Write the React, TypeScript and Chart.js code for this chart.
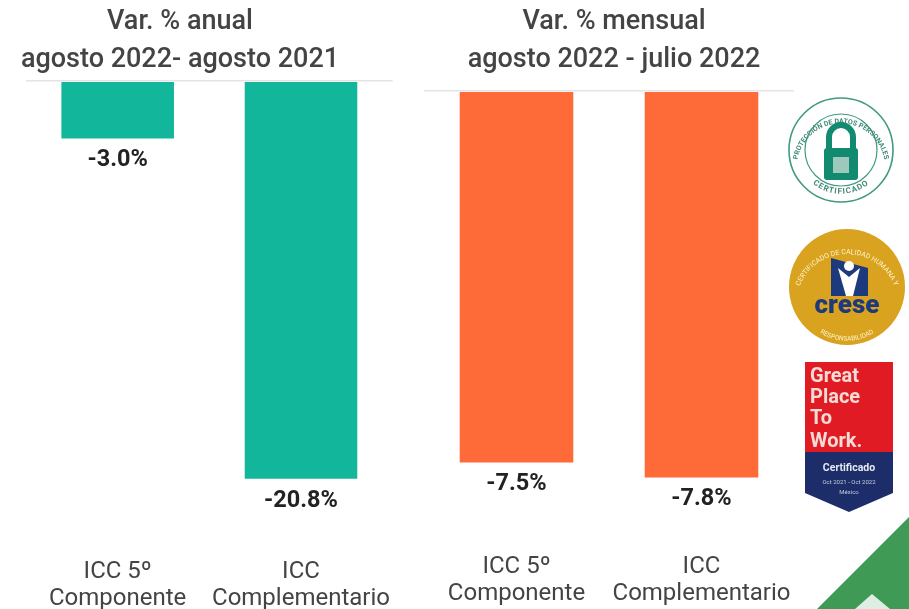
import React, { useEffect, useRef } from "react";
import { Chart, registerables } from "chart.js";

Chart.register(...registerables);

const categories = [["ICC 5º", "Componente"], ["ICC", "Complementario"]];
const annualValues = [-3.0, -20.8];
const monthlyValues = [-7.5, -7.8];
const annualTitle = ["Var. % anual", "agosto 2022- agosto 2021"];
const monthlyTitle = ["Var. % mensual", "agosto 2022 - julio 2022"];

const FONT = "Roboto";

const valueLabels = {
  id: "valueLabels",
  afterDatasetsDraw(chart: any) {
    const { ctx } = chart;
    const meta = chart.getDatasetMeta(0);
    ctx.save();
    ctx.font = `700 23.5px ${FONT}`;
    ctx.fillStyle = "#222222";
    ctx.textAlign = "center";
    ctx.textBaseline = "middle";
    meta.data.forEach((bar: any, i: number) => {
      const v = chart.data.datasets[0].data[i] as number;
      ctx.fillText(`${v.toFixed(1)}%`, bar.x, bar.y + 22);
    });
    ctx.restore();
  },
};

function makeChart(
  canvas: HTMLCanvasElement,
  values: number[],
  title: string[],
  color: string,
  yMin: number,
  yPosition: "left" | "right",
  yWidth: number,
  bottomPad: number,
  tickPad: number,
  titleBottom: number,
) {
  return new Chart(canvas, {
    type: "bar",
    data: {
      labels: categories,
      datasets: [{ data: values, backgroundColor: color, categoryPercentage: 1, barPercentage: 0.614, borderWidth: 0 }],
    },
    plugins: [valueLabels],
    options: {
      animation: false,
      responsive: false,
      layout: { padding: { left: 0, right: 0, top: 0, bottom: bottomPad } },
      plugins: {
        legend: { display: false },
        tooltip: { enabled: false },
        title: {
          display: true,
          text: title,
          color: "#444444",
          font: { family: FONT, size: 27, weight: 500 as any, lineHeight: 1.41 },
          padding: { top: 3, bottom: titleBottom },
        },
      },
      scales: {
        x: {
          position: "bottom",
          border: { display: false },
          grid: { display: false },
          ticks: {
            color: "#444444",
            font: { family: FONT, size: 24, lineHeight: 1.15 },
            maxRotation: 0,
            autoSkip: false,
            padding: tickPad,
          },
        },
        y: {
          min: yMin,
          max: 0,
          position: yPosition,
          display: true,
          border: { display: false },
          ticks: { display: false },
          afterFit: (s: any) => {
            s.width = yWidth;
          },
          grid: {
            drawTicks: false,
            lineWidth: 1.5,
            color: (c: any) => (c.tick && c.tick.value === 0 ? "#e4e4e4" : "rgba(0,0,0,0)"),
          },
        },
      },
    },
  });
}

function Seal() {
  return (
    <g>
      <circle cx={841} cy={150} r={52} fill="#ffffff" stroke="#3f9a80" strokeWidth={1.6} />
      <circle cx={841} cy={150} r={36} fill="none" stroke="#3f9a80" strokeWidth={1.2} />
      <path id="sealTop" d="M 798 158 A 44 44 0 0 1 884 158" fill="none" />
      <path id="sealBottom" d="M 803 172 A 44 44 0 0 0 879 172" fill="none" />
      <text fontFamily={FONT} fontSize={7} fontWeight={700} fill="#3f8a76">
        <textPath href="#sealTop" startOffset="50%" textAnchor="middle">PROTECCIÓN DE DATOS PERSONALES</textPath>
      </text>
      <text fontFamily={FONT} fontSize={8} fontWeight={700} fill="#3f8a76" letterSpacing={1}>
        <textPath href="#sealBottom" startOffset="50%" textAnchor="middle">CERTIFICADO</textPath>
      </text>
      <path d="M 829 150 V 137 A 12 12 0 0 1 853 137 V 150" fill="none" stroke="#128a70" strokeWidth={6} />
      <rect x={824} y={148} width={34} height={32} rx={3} fill="#128a70" />
      <rect x={833} y={157} width={16} height={16} fill="#9cc9bb" />
    </g>
  );
}

function Crese() {
  return (
    <g>
      <circle cx={847} cy={287} r={58} fill="#d9a21f" />
      <path id="creseTop" d="M 797 295 A 51 51 0 0 1 897 295" fill="none" />
      <path id="creseBottom" d="M 808 322 A 50 50 0 0 0 886 322" fill="none" />
      <text fontFamily={FONT} fontSize={7} fill="#fff4cf">
        <textPath href="#creseTop" startOffset="50%" textAnchor="middle">CERTIFICADO DE CALIDAD HUMANA Y</textPath>
      </text>
      <text fontFamily={FONT} fontSize={6.5} fill="#fff4cf">
        <textPath href="#creseBottom" startOffset="50%" textAnchor="middle">RESPONSABILIDAD</textPath>
      </text>
      <path d="M 831 258 L 868 268 V 296 H 831 Z" fill="#1d3a7c" />
      <circle cx={849} cy={266} r={5} fill="#ffffff" />
      <path d="M 838 268 L 849 277 L 860 268 L 853 296 H 846 Z" fill="#ffffff" />
      <text x={847} y={313} textAnchor="middle" fontFamily={FONT} fontSize={26} fontWeight={900} fill="#1d3a7c">crese</text>
    </g>
  );
}

function Gptw() {
  return (
    <g>
      <path d="M 805 452 V 362 H 893 V 452 Z" fill="#e01b24" />
      <path d="M 805 452 H 893 V 493 L 849 512 L 805 493 Z" fill="#1c2d69" />
      <g fontFamily={FONT} fontSize={20} fontWeight={700} fill="#f6dcd6">
        <text x={810} y={382}>Great</text>
        <text x={810} y={403}>Place</text>
        <text x={810} y={424}>To</text>
        <text x={810} y={447}>Work.</text>
      </g>
      <text x={849} y={471} textAnchor="middle" fontFamily={FONT} fontSize={10.5} fontWeight={700} fill="#e6e8f2">Certificado</text>
      <text x={849} y={484} textAnchor="middle" fontFamily={FONT} fontSize={6} fill="#c7cbe0">Oct 2021 - Oct 2022</text>
      <text x={849} y={494} textAnchor="middle" fontFamily={FONT} fontSize={6} fill="#c7cbe0">México</text>
    </g>
  );
}

export default function App() {
  const leftRef = useRef<HTMLCanvasElement>(null);
  const rightRef = useRef<HTMLCanvasElement>(null);

  useEffect(() => {
    const left = makeChart(leftRef.current!, annualValues, annualTitle, "#12b79b", -24.3, "left", 60, 0, 4, 2);
    const right = makeChart(rightRef.current!, monthlyValues, monthlyTitle, "#ff6a39", -9.06, "right", 10, 1, 5, 12);
    return () => {
      left.destroy();
      right.destroy();
    };
  }, []);

  return (
    <div style={{ position: "absolute", left: 0, top: 0, width: 909, height: 609, overflow: "hidden", background: "#ffffff" }}>
      <canvas ref={leftRef} width={428} height={617} style={{ position: "absolute", left: -34, top: 0 }} />
      <canvas ref={rightRef} width={380} height={614} style={{ position: "absolute", left: 424, top: 0 }} />
      <svg width={909} height={609} style={{ position: "absolute", left: 0, top: 0, pointerEvents: "none", filter: "blur(0.5px)" }}>
        <Seal />
        <Crese />
        <Gptw />
        <path d="M 817 609 L 909 517 V 609 Z" fill="#3f9a56" />
        <path d="M 855 609 L 872 594 L 890 609 Z" fill="#dfeee2" />
      </svg>
    </div>
  );
}
